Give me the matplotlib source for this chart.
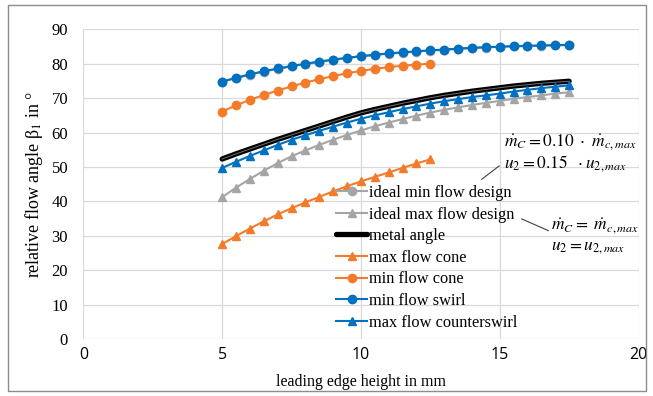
import numpy as np
import matplotlib
matplotlib.use("Agg")
import matplotlib.pyplot as plt
from matplotlib.patches import Rectangle

plt.rcParams.update({
    "font.family": "serif",
    "font.serif": ["Liberation Serif", "DejaVu Serif"],
    "mathtext.fontset": "stix",
    "font.size": 11,
})

# leading edge heights in mm
h_long = np.arange(5.0, 17.51, 0.5)
h_short = np.arange(5.0, 12.51, 0.5)

# relative flow angle in degrees
ideal_min_flow = [74.7, 75.8, 76.8, 77.7, 78.5, 79.2, 79.9, 80.5, 81.1, 81.6, 82.1, 82.5, 82.9,
                  83.2, 83.5, 83.8, 84.0, 84.3, 84.5, 84.7, 84.9, 85.0, 85.1, 85.2, 85.3, 85.4]
ideal_max_flow = [41.2, 44.0, 46.5, 48.9, 51.1, 53.1, 54.8, 56.4, 57.9, 59.3, 60.6, 61.8, 62.9,
                  63.9, 64.9, 65.8, 66.6, 67.3, 68.0, 68.6, 69.2, 69.8, 70.3, 70.8, 71.3, 71.7]
metal_angle = [52.3, 53.8, 55.2, 56.6, 58.0, 59.3, 60.6, 61.9, 63.2, 64.5, 65.7, 66.7, 67.6,
               68.5, 69.3, 70.1, 70.8, 71.4, 72.0, 72.5, 73.0, 73.5, 73.9, 74.3, 74.6, 74.9]
max_flow_cone = [27.6, 29.9, 32.1, 34.2, 36.2, 38.0, 39.7, 41.3, 42.9, 44.4, 45.8, 47.1, 48.4,
                 49.7, 51.0, 52.2]
min_flow_cone = [66.1, 67.9, 69.5, 70.9, 72.2, 73.4, 74.5, 75.5, 76.4, 77.2, 77.9, 78.5, 79.0,
                 79.4, 79.7, 80.0]
min_flow_swirl = [74.8, 75.9, 76.9, 77.8, 78.6, 79.3, 80.0, 80.6, 81.2, 81.7, 82.2, 82.6, 83.0,
                  83.3, 83.6, 83.9, 84.1, 84.4, 84.6, 84.8, 84.95, 85.1, 85.2, 85.3, 85.4, 85.5]
max_flow_counterswirl = [49.7, 51.5, 53.2, 54.8, 56.4, 57.9, 59.2, 60.5, 61.7, 62.9, 64.0, 65.0,
                         65.9, 66.8, 67.6, 68.4, 69.1, 69.7, 70.3, 70.8, 71.3, 71.9, 72.4, 72.9,
                         73.3, 73.7]

blue = "#0070C0"
orange = "#F47B2A"
gray = "#A5A5A5"

fig = plt.figure(figsize=(6.53, 3.96), dpi=100)
ax = fig.add_axes([0.1277, 0.1439, 0.8501, 0.7822])

ax.plot(h_long, ideal_min_flow, color=gray, marker="o", ms=6, lw=1.5,
        label="ideal min flow design")
ax.plot(h_long, ideal_max_flow, color=gray, marker="^", ms=6, lw=1.5,
        label="ideal max flow design")
ax.plot(h_long, metal_angle, color="black", lw=3.8, solid_capstyle="round",
        label="metal angle")
ax.plot(h_long, metal_angle, color="#707070", lw=0.7)
ax.plot(h_short, max_flow_cone, color=orange, marker="^", ms=6, lw=1.5,
        label="max flow cone")
ax.plot(h_short, min_flow_cone, color=orange, marker="o", ms=6, lw=1.5,
        label="min flow cone")
ax.plot(h_long, min_flow_swirl, color=blue, marker="o", ms=6, lw=1.5,
        label="min flow swirl")
ax.plot(h_long, max_flow_counterswirl, color=blue, marker="^", ms=6, lw=1.5,
        label="max flow counterswirl")

ax.set_xlim(0, 20)
ax.set_ylim(0, 90)
ax.set_xticks(np.arange(0, 21, 5))
ax.set_yticks(np.arange(0, 91, 10))
ax.grid(True, color="#D9D9D9", lw=0.9)
ax.set_axisbelow(True)
for s in ax.spines.values():
    s.set_visible(False)
ax.tick_params(axis="both", length=0)
ax.tick_params(axis="y", pad=11, labelsize=12)
ax.tick_params(axis="x", pad=6, labelsize=11.5)
for lab in ax.get_xticklabels():
    lab.set_family("Open Sans")

ax.set_xlabel("leading edge height in mm", fontsize=11.5, labelpad=8)
ax.set_ylabel(r"relative flow angle β$_1$ in °", fontsize=13, labelpad=5)

leg = ax.legend(loc="upper left", bbox_to_anchor=(0.455, 0.497), frameon=False,
                borderaxespad=0, borderpad=0, handlelength=1.9, handletextpad=0.1,
                labelspacing=0.34, fontsize=11.8)

# operating point notes with leader lines
ax.plot([14.35, 14.98], [46.4, 50.3], color="#404040", lw=0.8)
ax.text(15.15, 57.2, r"$\dot{m}_C = 0.10\ \cdot\ \dot{m}_{c,max}$", fontsize=12.5, va="center")
ax.text(15.15, 51.0, r"$u_2 = 0.15\ \ \cdot u_{2,max}$", fontsize=12.5, va="center")
ax.plot([15.79, 16.75], [34.9, 31.5], color="#404040", lw=0.8)
ax.text(16.85, 32.8, r"$\dot{m}_C =\ \dot{m}_{c,max}$", fontsize=12.5, va="center")
ax.text(16.85, 26.6, r"$u_2 = u_{2,max}$", fontsize=12.5, va="center")

# chart border
fig.patches.append(Rectangle((8 / 653, 5 / 396), 638 / 653, 386 / 396,
                             transform=fig.transFigure, fill=False,
                             edgecolor="#8C8C8C", lw=1.0))

fig.savefig("out.png", dpi=100)
